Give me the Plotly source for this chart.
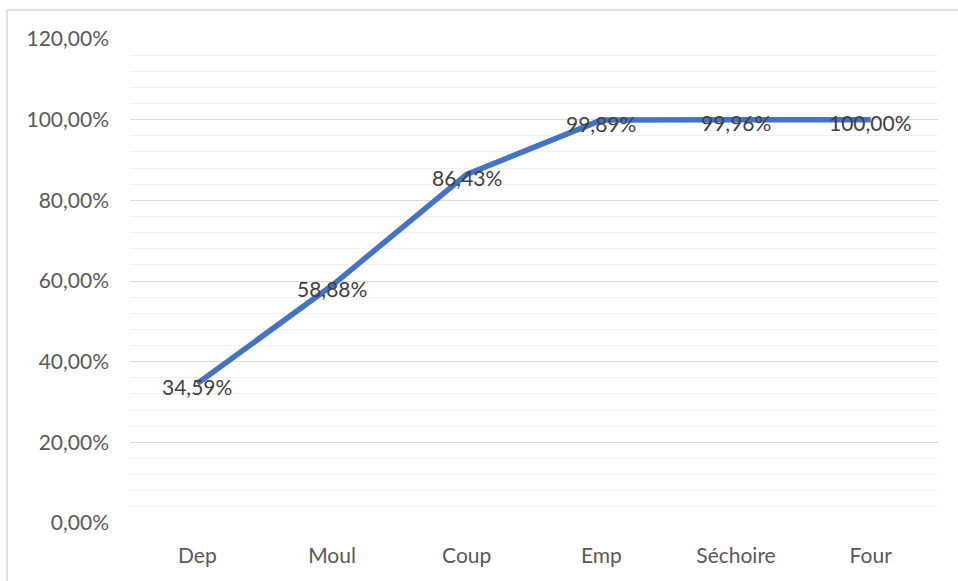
import plotly.graph_objects as go

# Cumulative share per workstation
stations = ["Dep", "Moul", "Coup", "Emp", "Séchoire", "Four"]
cumulative = [0.3459, 0.5888, 0.8643, 0.9989, 0.9996, 1.0000]

y_ticks = [0, 0.2, 0.4, 0.6, 0.8, 1.0, 1.2]

fig = go.Figure()
fig.add_trace(go.Scatter(
    x=stations,
    y=cumulative,
    mode="lines",
    line=dict(color="#4472C4", width=5.5),
    hoverinfo="skip",
    showlegend=False,
))

# Value labels, centred on each point and nudged slightly down
for name, val in zip(stations, cumulative):
    fig.add_annotation(
        x=name, y=val, xref="x", yref="y",
        text=f"{val * 100:.2f}%".replace(".", ","),
        showarrow=False, yshift=-3,
        font=dict(family="Lato", size=21, color="#404040"),
    )

fig.update_layout(
    width=958,
    height=581,
    margin=dict(l=130, r=20, t=39, b=58),
    paper_bgcolor="white",
    plot_bgcolor="white",
    separators=", ",
    font=dict(family="Lato", size=21, color="#595959"),
    shapes=[dict(
        type="rect", xref="paper", yref="paper",
        x0=(7 - 130) / 808, x1=(962 - 130) / 808,
        y0=(523 - 585) / 484, y1=(523 - 10) / 484,
        line=dict(color="#d9d9d9", width=1.5),
        fillcolor="rgba(0,0,0,0)", layer="below",
    )],
)

fig.update_xaxes(
    type="category",
    range=[-0.5, 5.5],
    showgrid=False,
    showline=False,
    zeroline=False,
    ticks="",
    ticklabelstandoff=18,
    tickfont=dict(family="Lato", size=21, color="#595959"),
)

fig.update_yaxes(
    range=[0, 1.2],
    tickvals=y_ticks,
    tickformat=".2%",
    showgrid=True,
    gridcolor="#d9d9d9",
    gridwidth=1.3,
    zeroline=False,
    showline=False,
    ticks="",
    ticklabelstandoff=20,
    tickfont=dict(family="Lato", size=21, color="#595959"),
    minor=dict(dtick=0.04, showgrid=True, gridcolor="#f0f0f0", gridwidth=1.3),
)

fig.write_html("out.html")
